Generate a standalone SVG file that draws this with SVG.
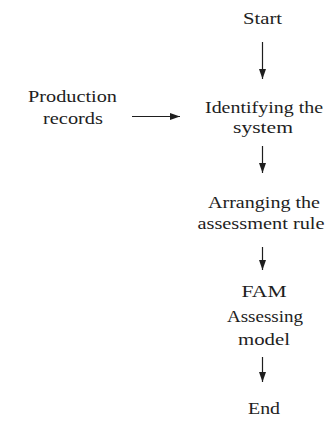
<svg xmlns="http://www.w3.org/2000/svg" width="327" height="425" viewBox="0 0 327 425">
<style>
text{font-family:"Liberation Serif","Times New Roman",serif;font-size:17.5px;fill:#1e1e1e;text-anchor:middle}
.c line{stroke:#1e1e1e;stroke-width:1.2}
</style>
<defs>
<marker id="ah" markerUnits="userSpaceOnUse" markerWidth="10" markerHeight="8" refX="10" refY="4" orient="auto">
<path d="M0,0.5 L10,4 L0,7.5 z" fill="#1e1e1e"/>
</marker>
</defs>
<rect width="327" height="425" fill="#fff"/>
<g id="start"><text x="262.5" y="23.5" textLength="39" lengthAdjust="spacingAndGlyphs">Start</text></g>
<g id="production"><text x="72.5" y="102" textLength="89" lengthAdjust="spacingAndGlyphs">Production</text><text x="73" y="123.5" textLength="60" lengthAdjust="spacingAndGlyphs">records</text></g>
<g id="identify"><text x="264" y="113" textLength="118" lengthAdjust="spacingAndGlyphs">Identifying the</text><text x="263" y="133" textLength="60" lengthAdjust="spacingAndGlyphs">system</text></g>
<g id="arrange"><text x="264" y="208" textLength="112" lengthAdjust="spacingAndGlyphs">Arranging the</text><text x="261" y="228.5" textLength="127" lengthAdjust="spacingAndGlyphs">assessment rule</text></g>
<g id="fam"><text x="264" y="297" textLength="45" lengthAdjust="spacingAndGlyphs">FAM</text><text x="265" y="321.5" textLength="76" lengthAdjust="spacingAndGlyphs">Assessing</text><text x="264" y="345" textLength="52" lengthAdjust="spacingAndGlyphs">model</text></g>
<g id="end"><text x="264" y="413.5" textLength="32" lengthAdjust="spacingAndGlyphs">End</text></g>
<g class="c" id="connectors">
<line x1="262.5" y1="42" x2="262.5" y2="79" marker-end="url(#ah)"/>
<line x1="132" y1="116.5" x2="180" y2="116.5" marker-end="url(#ah)"/>
<line x1="262.5" y1="146" x2="262.5" y2="173" marker-end="url(#ah)"/>
<line x1="262.5" y1="247" x2="262.5" y2="270" marker-end="url(#ah)"/>
<line x1="262.5" y1="357" x2="262.5" y2="382" marker-end="url(#ah)"/>
</g>
</svg>
